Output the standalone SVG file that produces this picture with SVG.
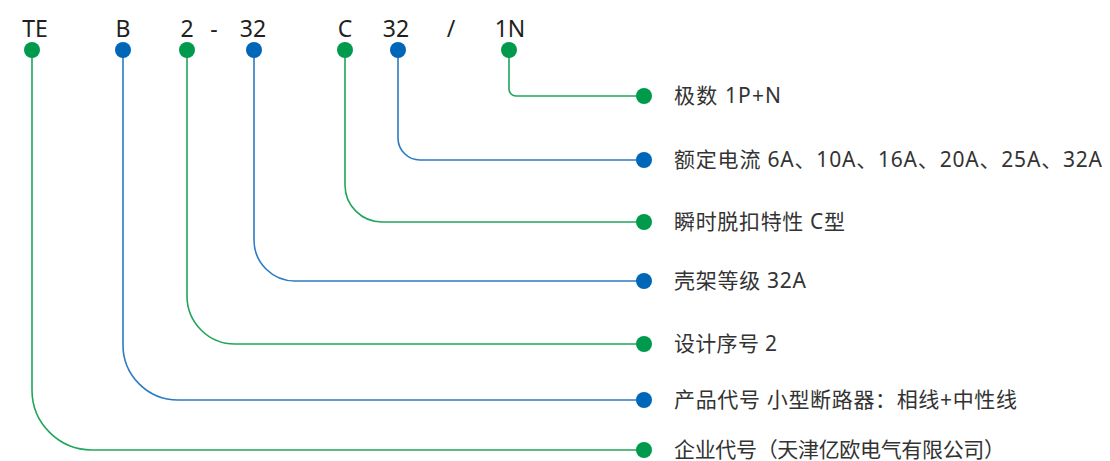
<svg xmlns="http://www.w3.org/2000/svg" width="1110" height="461" viewBox="0 0 1110 461">
<style>
.top{font-family:"Noto Sans","Noto Sans CJK SC",sans-serif;font-size:23px;fill:#231f20;text-anchor:middle}
.lbl{font-family:"Noto Sans","Noto Sans CJK SC",sans-serif;font-size:21px;fill:#333333}
.g{fill:#009A4C}
.b{fill:#0066B8}
.lg{fill:none;stroke:#1FA65A;stroke-width:1.6}
.lb{fill:none;stroke:#2A7BC5;stroke-width:1.6}
</style>
<rect width="1110" height="461" fill="#ffffff"/>
<g id="connectors">
<path class="lg" d="M32,50 V390 A60,60 0 0 0 92,450 H644"/>
<path class="lb" d="M123,50 V345 A55,55 0 0 0 178,400 H644"/>
<path class="lg" d="M187,50 V296 A48,48 0 0 0 235,344 H644"/>
<path class="lb" d="M254,50 V240 A41,41 0 0 0 295,281 H644"/>
<path class="lg" d="M345,50 V185 A37,37 0 0 0 382,222 H644"/>
<path class="lb" d="M398,50 V138 A22,22 0 0 0 420,160 H644"/>
<path class="lg" d="M509,50 V89 A7,7 0 0 0 516,96 H644"/>
</g>
<g id="code">
<text class="top" x="35" y="37">TE</text>
<text class="top" x="123" y="37">B</text>
<text class="top" x="187" y="37">2</text>
<text class="top" x="214" y="37">-</text>
<text class="top" x="253" y="37">32</text>
<text class="top" x="345" y="37">C</text>
<text class="top" x="396" y="37">32</text>
<text class="top" x="451" y="37">/</text>
<text class="top" x="510" y="37">1N</text>
</g>
<g id="node-TE"><circle class="g" cx="32" cy="50" r="8"/><circle class="g" cx="644" cy="450" r="8"/><text class="lbl" x="674" y="457" textLength="331" lengthAdjust="spacing">企业代号（天津亿欧电气有限公司）</text></g>
<g id="node-B"><circle class="b" cx="123" cy="50" r="8"/><circle class="b" cx="644" cy="400" r="8"/><text class="lbl" x="674" y="407" textLength="343" lengthAdjust="spacing">产品代号 小型断路器：相线+中性线</text></g>
<g id="node-2"><circle class="g" cx="187" cy="50" r="8"/><circle class="g" cx="644" cy="344" r="8"/><text class="lbl" x="674" y="351" textLength="103" lengthAdjust="spacing">设计序号 2</text></g>
<g id="node-32a"><circle class="b" cx="254" cy="50" r="8"/><circle class="b" cx="644" cy="281" r="8"/><text class="lbl" x="674" y="288" textLength="132" lengthAdjust="spacing">壳架等级 32A</text></g>
<g id="node-C"><circle class="g" cx="345" cy="50" r="8"/><circle class="g" cx="644" cy="222" r="8"/><text class="lbl" x="674" y="229" textLength="171" lengthAdjust="spacing">瞬时脱扣特性 C型</text></g>
<g id="node-32b"><circle class="b" cx="398" cy="50" r="8"/><circle class="b" cx="644" cy="160" r="8"/><text class="lbl" x="674" y="167" textLength="428" lengthAdjust="spacing">额定电流 6A、10A、16A、20A、25A、32A</text></g>
<g id="node-1N"><circle class="g" cx="509" cy="50" r="8"/><circle class="g" cx="644" cy="96" r="8"/><text class="lbl" x="674" y="103" textLength="107" lengthAdjust="spacing">极数 1P+N</text></g>
</svg>
